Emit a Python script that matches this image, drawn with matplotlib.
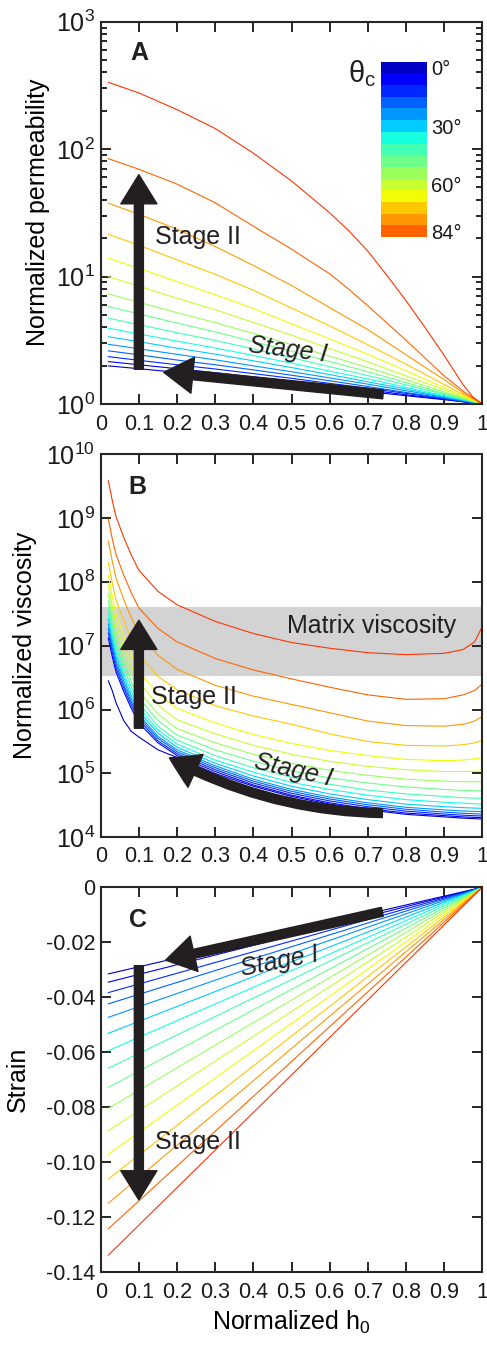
import numpy as np
import matplotlib
matplotlib.use('Agg')
import matplotlib.pyplot as plt
from matplotlib.colors import ListedColormap
from matplotlib.ticker import FuncFormatter, LogLocator, NullLocator, MultipleLocator

plt.rcParams['font.family'] = ['Liberation Sans', 'DejaVu Sans']
plt.rcParams['mathtext.fontset'] = 'custom'
plt.rcParams['mathtext.rm'] = 'Liberation Sans'
plt.rcParams['mathtext.it'] = 'Liberation Sans:italic'
plt.rcParams['axes.unicode_minus'] = False

INK = '#231f20'
AXC = '#262626'

# contact angle of each curve (deg), 0 -> 90 in steps of 6
theta_c = [0, 6, 12, 18, 24, 30, 36, 42, 48, 54, 60, 66, 72, 78, 84, 90]
cbar_ticks = [0, 30, 60, 84]

# --- panel A: normalized permeability ---
h0_perm = [0.02, 0.1, 0.2, 0.3, 0.4, 0.5, 0.6, 0.7, 0.8, 0.9, 0.95, 1.0]
perm = [
    [1.99, 1.89, 1.77, 1.66, 1.55, 1.45, 1.35, 1.25, 1.16, 1.08, 1.04, 1.0],
    [2.15, 2.03, 1.89, 1.76, 1.63, 1.51, 1.39, 1.29, 1.18, 1.09, 1.04, 1.0],
    [2.35, 2.20, 2.03, 1.88, 1.73, 1.59, 1.45, 1.33, 1.21, 1.10, 1.05, 1.0],
    [2.61, 2.43, 2.21, 2.03, 1.85, 1.68, 1.52, 1.37, 1.23, 1.11, 1.05, 1.0],
    [2.94, 2.71, 2.45, 2.22, 1.99, 1.79, 1.60, 1.43, 1.27, 1.13, 1.06, 1.0],
    [3.37, 3.08, 2.74, 2.46, 2.18, 1.93, 1.70, 1.49, 1.31, 1.14, 1.07, 1.0],
    [3.93, 3.54, 3.11, 2.75, 2.40, 2.09, 1.81, 1.57, 1.35, 1.16, 1.08, 1.0],
    [4.71, 4.19, 3.62, 3.15, 2.70, 2.31, 1.96, 1.67, 1.41, 1.19, 1.09, 1.0],
    [5.81, 5.09, 4.31, 3.68, 3.08, 2.59, 2.15, 1.79, 1.47, 1.21, 1.10, 1.0],
    [7.30, 6.28, 5.20, 4.35, 3.57, 2.92, 2.37, 1.93, 1.55, 1.24, 1.11, 1.0],
    [9.98, 8.40, 6.75, 5.49, 4.36, 3.46, 2.72, 2.14, 1.66, 1.29, 1.13, 1.0],
    [13.9, 11.6, 9.12, 7.20, 5.61, 4.25, 3.24, 2.45, 1.82, 1.34, 1.15, 1.0],
    [21.4, 17.6, 13.5, 10.4, 7.80, 5.65, 4.10, 2.92, 2.05, 1.42, 1.18, 1.0],
    [37.6, 30.8, 23.5, 17.2, 12.2, 8.50, 5.70, 3.83, 2.43, 1.55, 1.22, 1.0],
]
# the two steepest curves (84 and 90 deg) are read at more points
h0_perm_fine = [0.02, 0.1, 0.2, 0.3, 0.4, 0.5, 0.6, 0.65, 0.7, 0.75, 0.8, 0.85, 0.9, 0.95, 0.975, 1.0]
perm_84 = [84.1, 69.5, 53.1, 37.9, 24.8, 16.4, 10.5, 7.94, 5.89, 4.32, 3.16, 2.29, 1.66, 1.26, 1.117, 1.0]
perm_90 = [334, 276, 204, 145, 92.9, 56.2, 31.6, 22.9, 15.8, 10.2, 6.46, 3.98, 2.40, 1.41, 1.135, 1.0]

# --- panel B: normalized viscosity (log10 of value) ---
h0_visc = [0.02, 0.03, 0.04, 0.06, 0.08, 0.1, 0.15, 0.2, 0.3, 0.4, 0.5,
           0.6, 0.7, 0.8, 0.9, 0.95, 0.98, 1.0]
visc_log10 = [
    [6.45, 6.30, 6.11, 5.83, 5.66, 5.57, 5.37, 5.25, 5.00, 4.80, 4.64, 4.52, 4.43, 4.36, 4.32, 4.30, 4.292, 4.287],
    [7.12, 6.835, 6.59, 6.285, 6.02, 5.79, 5.48, 5.28, 5.03, 4.82, 4.66, 4.54, 4.45, 4.38, 4.34, 4.32, 4.312, 4.308],
    [7.20, 6.91, 6.65, 6.34, 6.07, 5.84, 5.51, 5.31, 5.06, 4.85, 4.69, 4.57, 4.48, 4.41, 4.365, 4.346, 4.338, 4.334],
    [7.27, 6.97, 6.71, 6.39, 6.12, 5.88, 5.55, 5.34, 5.09, 4.88, 4.72, 4.60, 4.51, 4.44, 4.395, 4.377, 4.369, 4.365],
    [7.34, 7.03, 6.77, 6.45, 6.16, 5.92, 5.58, 5.37, 5.12, 4.91, 4.75, 4.63, 4.54, 4.47, 4.43, 4.413, 4.406, 4.402],
    [7.42, 7.11, 6.84, 6.51, 6.22, 5.97, 5.63, 5.41, 5.16, 4.96, 4.80, 4.68, 4.59, 4.52, 4.48, 4.465, 4.458, 4.454],
    [7.50, 7.18, 6.91, 6.57, 6.28, 6.03, 5.68, 5.46, 5.21, 5.02, 4.86, 4.75, 4.66, 4.59, 4.55, 4.535, 4.526, 4.522],
    [7.60, 7.28, 7.00, 6.66, 6.36, 6.10, 5.74, 5.52, 5.28, 5.09, 4.94, 4.83, 4.74, 4.68, 4.64, 4.62, 4.613, 4.61],
    [7.70, 7.37, 7.09, 6.75, 6.44, 6.18, 5.83, 5.60, 5.37, 5.19, 5.04, 4.93, 4.85, 4.79, 4.75, 4.735, 4.73, 4.725],
    [7.82, 7.49, 7.21, 6.86, 6.55, 6.29, 5.93, 5.70, 5.48, 5.30, 5.16, 5.05, 4.97, 4.91, 4.88, 4.87, 4.87, 4.871],
    [7.95, 7.62, 7.34, 6.99, 6.69, 6.43, 6.07, 5.84, 5.62, 5.44, 5.30, 5.19, 5.11, 5.06, 5.03, 5.03, 5.035, 5.04],
    [8.10, 7.78, 7.50, 7.16, 6.86, 6.60, 6.24, 6.02, 5.79, 5.61, 5.47, 5.36, 5.28, 5.22, 5.20, 5.21, 5.23, 5.25],
    [8.30, 7.99, 7.72, 7.40, 7.11, 6.86, 6.52, 6.31, 6.06, 5.90, 5.77, 5.62, 5.50, 5.44, 5.43, 5.45, 5.48, 5.52],
    [8.64, 8.33, 8.06, 7.73, 7.44, 7.19, 6.85, 6.63, 6.38, 6.21, 6.08, 5.95, 5.82, 5.75, 5.74, 5.77, 5.82, 5.89],
    [8.98, 8.68, 8.43, 8.11, 7.83, 7.59, 7.27, 7.06, 6.80, 6.62, 6.48, 6.35, 6.23, 6.16, 6.17, 6.23, 6.30, 6.40],
    [9.58, 9.28, 9.02, 8.70, 8.42, 8.18, 7.85, 7.64, 7.38, 7.19, 7.05, 6.96, 6.89, 6.86, 6.88, 6.94, 7.06, 7.30],
]
matrix_visc = [3.3e6, 4.1e7]

# --- panel C: strain, straight lines from h0=0.02 to h0=1 ---
h0_strain = [0.02, 1.0]
strain_start = [-0.0315, -0.0345, -0.0383, -0.0424, -0.0473, -0.0531, -0.0594, -0.0658,
                -0.0728, -0.0804, -0.0885, -0.0971, -0.1061, -0.1149, -0.1242, -0.1338]
strain_end = 0.0

colors = plt.cm.jet(np.linspace(0.06, 0.855, len(theta_c)))

fig = plt.figure(figsize=(4.87, 13.46), dpi=100)
L, W = 0.2068, 0.7836
axA = fig.add_axes([L, 0.6999, W, 0.2840])
axB = fig.add_axes([L, 0.3779, W, 0.2848])
axC = fig.add_axes([L, 0.0548, W, 0.2860])


def style(ax):
    for s in ax.spines.values():
        s.set_linewidth(1.5)
        s.set_color(AXC)
    ax.tick_params(which='both', direction='in', top=True, right=True,
                   colors=AXC, labelcolor='#1a1a1a', labelsize=15.5, width=1.4)
    ax.tick_params(which='major', length=7)
    ax.tick_params(which='minor', length=4)
    ax.tick_params(axis='x', pad=7)
    ax.tick_params(axis='y', pad=4)
    ax.set_xlim(0, 1)
    ax.xaxis.set_major_locator(MultipleLocator(0.1))
    ax.xaxis.set_major_formatter(FuncFormatter(lambda v, p: '%g' % round(v, 2)))


def big_arrow(ax, start, end, rad=0.0):
    ax.annotate('', xy=end, xytext=start, zorder=6,
                arrowprops=dict(arrowstyle='simple,head_length=21,head_width=26,tail_width=6.5',
                                mutation_scale=1, color=INK, shrinkA=0, shrinkB=0,
                                connectionstyle='arc3,rad=%g' % rad))


# ---------- A ----------
for i, row in enumerate(perm):
    axA.plot(h0_perm, row, color=colors[i], lw=0.8)
axA.plot(h0_perm_fine, perm_84, color=colors[14], lw=0.8)
axA.plot(h0_perm_fine, perm_90, color=colors[15], lw=0.8)
axA.set_yscale('log')
axA.set_ylim(1, 1000)
style(axA)
axA.yaxis.set_major_locator(LogLocator(base=10, numticks=10))
axA.tick_params(axis='y', which='major', labelsize=18)
axA.set_ylabel('Normalized permeability', fontsize=18)
axA.yaxis.set_label_coords(-0.133, 0.5)
axA.text(0.077, 565, 'A', fontsize=18, fontweight='bold', va='center', color=INK)
big_arrow(axA, (0.1, 1.87), (0.1, 63))
big_arrow(axA, (0.74, 1.19), (0.165, 1.77))
axA.text(0.142, 20.6, 'Stage II', fontsize=18, va='center', color=INK, zorder=7)
axA.text(0.49, 2.65, 'Stage I', fontsize=18, style='italic', ha='center', va='center',
         rotation=-7, color=INK, zorder=7)

# discrete colour key
cax = axA.inset_axes([0.735, 0.437, 0.12, 0.458])
cmap15 = ListedColormap(colors[:15])
cax.pcolormesh([0, 1], np.arange(16), np.arange(15).reshape(-1, 1), cmap=cmap15)
cax.set_ylim(15, 0)
cax.set_xticks([])
cax.yaxis.tick_right()
cax.set_yticks([theta_c.index(t) + 0.5 for t in cbar_ticks])
cax.set_yticklabels(['%d°' % t for t in cbar_ticks])
cax.tick_params(axis='y', length=0, labelsize=14.5, pad=3, labelcolor='#1a1a1a')
for s in cax.spines.values():
    s.set_visible(False)
axA.text(0.722, 0.905, 'θ$_{\\mathdefault{c}}$', transform=axA.transAxes, fontsize=21,
         ha='right', va='top', color=INK)

# ---------- B ----------
axB.axhspan(matrix_visc[0], matrix_visc[1], color='#d3d3d3', lw=0, zorder=0)
for i, row in enumerate(visc_log10):
    axB.plot(h0_visc, 10 ** np.array(row), color=colors[i], lw=0.8)
axB.set_yscale('log')
axB.set_ylim(1e4, 1e10)
style(axB)
axB.yaxis.set_major_locator(LogLocator(base=10, numticks=10))
axB.yaxis.set_minor_locator(NullLocator())
axB.tick_params(axis='y', which='major', labelsize=18)
axB.tick_params(axis='x', pad=6)
axB.set_ylabel('Normalized viscosity', fontsize=18)
axB.yaxis.set_label_coords(-0.168, 0.5)
axB.text(0.073, 3.0e9, 'B', fontsize=18, fontweight='bold', va='center', color=INK)
axB.text(0.488, 2.05e7, 'Matrix viscosity', fontsize=18, va='center', color=INK)
big_arrow(axB, (0.1, 5.1e5), (0.1, 2.5e7))
big_arrow(axB, (0.738, 2.4e4), (0.18, 1.75e5), rad=-0.12)
axB.text(0.133, 1.6e6, 'Stage II', fontsize=18, va='center', color=INK, zorder=7)
axB.text(0.505, 1.13e5, 'Stage I', fontsize=18, style='italic', ha='center', va='center',
         rotation=-13, color=INK, zorder=7)

# ---------- C ----------
for i, s0 in enumerate(strain_start):
    axC.plot(h0_strain, [s0, strain_end], color=colors[i], lw=0.8)
axC.set_ylim(-0.14, 0)
style(axC)
axC.yaxis.set_major_locator(MultipleLocator(0.02))
axC.yaxis.set_major_formatter(FuncFormatter(lambda v, p: '0' if abs(v) < 1e-9 else '%.2f' % v))
axC.set_ylabel('Strain', fontsize=18)
axC.yaxis.set_label_coords(-0.185, 0.5)
axC.set_xlabel('Normalized h$_{\\mathdefault{0}}$', fontsize=18)
axC.text(0.073, -0.0119, 'C', fontsize=18, fontweight='bold', va='center', color=INK)
big_arrow(axC, (0.738, -0.0089), (0.17, -0.0265))
big_arrow(axC, (0.1, -0.0285), (0.1, -0.1137))
axC.text(0.142, -0.0925, 'Stage II', fontsize=18, va='center', color=INK, zorder=7)
axC.text(0.47, -0.027, 'Stage I', fontsize=18, style='italic', ha='center', va='center',
         rotation=11, color=INK, zorder=7)

fig.savefig('out.png', dpi=100)
